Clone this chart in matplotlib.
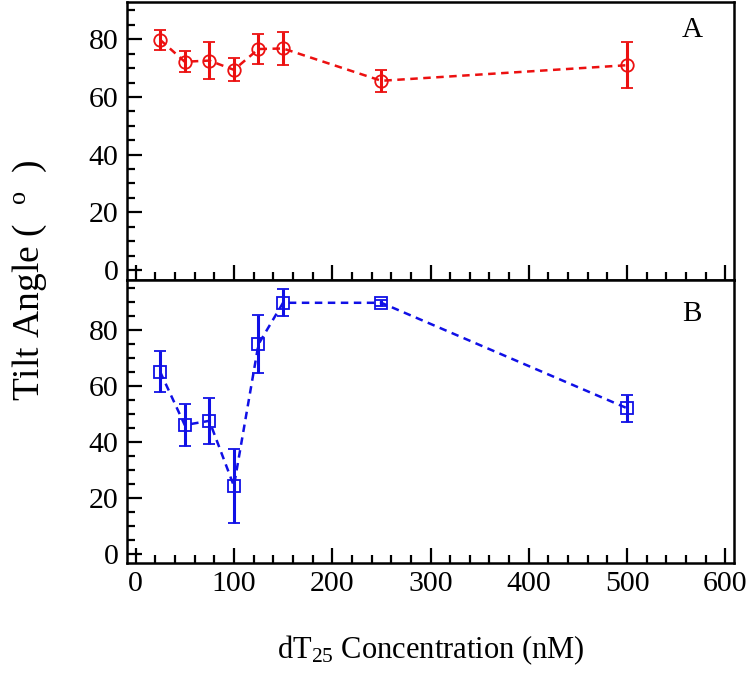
import numpy as np
import matplotlib
matplotlib.use("Agg")
import matplotlib.pyplot as plt
from matplotlib.ticker import MultipleLocator

plt.rcParams["font.family"] = ["Liberation Serif", "DejaVu Serif"]
plt.rcParams["mathtext.fontset"] = "custom"
plt.rcParams["mathtext.rm"] = "Liberation Serif"
plt.rcParams["mathtext.default"] = "regular"

# Data
conc = [25, 50, 75, 100, 125, 150, 250, 500]

tilt_a = [79.8, 72.2, 72.6, 69.4, 76.6, 76.8, 65.6, 71.0]
err_a = [3.5, 3.7, 6.5, 4.0, 5.3, 5.7, 3.9, 8.0]

tilt_b = [65.1, 46.1, 47.6, 24.3, 75.0, 89.8, 89.8, 52.1]
err_b = [7.3, 7.5, 8.2, 13.2, 10.3, 4.8, 1.0, 4.8]

fig = plt.figure(figsize=(7.5, 6.75), dpi=100)
left, right = 0.169, 0.979
ax1 = fig.add_axes([left, 0.585, right - left, 0.997 - 0.585])
ax2 = fig.add_axes([left, 0.166, right - left, 0.585 - 0.166])

panels = [
    (ax1, tilt_a, err_a, "#ec1010", "o", "A", (-3.5, 92.9)),
    (ax2, tilt_b, err_b, "#1010e6", "s", "B", (-3.2, 97.9)),
]

for ax, y, e, col, mk, letter, ylim in panels:
    ax.errorbar(conc, y, yerr=e, color=col, ls=(0, (3, 2.2)), lw=1.8,
                marker=mk, ms=9 if mk == "o" else 8, mfc="none", mec=col,
                mew=1.3, elinewidth=2.2, capsize=4, capthick=2.2)
    ax.set_xlim(-9, 609)
    ax.set_ylim(*ylim)
    ax.xaxis.set_major_locator(MultipleLocator(100))
    ax.xaxis.set_minor_locator(MultipleLocator(20))
    ax.yaxis.set_major_locator(MultipleLocator(20))
    ax.yaxis.set_minor_locator(MultipleLocator(5))
    ax.tick_params(which="both", direction="in", top=False, right=False,
                   width=1.6, labelsize=21.5, pad=6)
    ax.tick_params(which="major", length=11)
    ax.tick_params(which="minor", length=6)
    for s in ax.spines.values():
        s.set_linewidth(1.8)
    ax.text(0.93, 0.90 if letter == "A" else 0.88, letter, transform=ax.transAxes,
            fontsize=21, ha="center", va="center")

ax1.tick_params(labelbottom=False)
ax2.set_xlabel("dT$_{25}$ Concentration (nM)", fontsize=22, labelpad=26)
fig.text(0.04, 0.585, "Tilt Angle (  $^{o}$  )", rotation=90, fontsize=27,
         ha="center", va="center")

fig.savefig("out.png", dpi=100)
